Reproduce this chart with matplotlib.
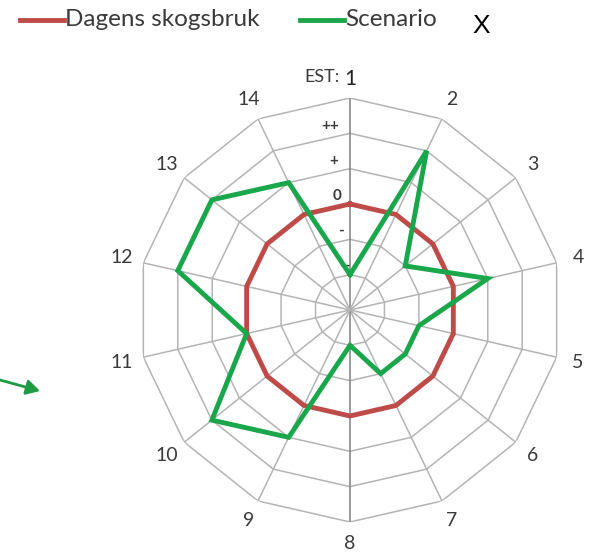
import numpy as np
import matplotlib
matplotlib.use("Agg")
import matplotlib.pyplot as plt

# 14 criteria, scored on a 6-step scale (1 = "--" ... 5 = "++")
categories = ["1", "2", "3", "4", "5", "6", "7", "8", "9", "10", "11", "12", "13", "14"]
dagens = [3, 3, 3, 3, 3, 3, 3, 3, 3, 3, 3, 3, 3, 3]
scenario = [1, 5, 2, 4, 2, 2, 2, 1, 4, 5, 3, 5, 5, 4]
level_labels = ["--", "-", "0", "+", "++"]
level_values = [1, 2, 3, 4, 5]
n_rings = 6

RED = "#be4b48"
GREEN = "#1aa64a"
GRID = "#b4b4b4"
TEXT = "#3a3a3a"

plt.rcParams["font.family"] = ["Lato", "DejaVu Sans"]

fig = plt.figure(figsize=(5.9, 5.6), dpi=100)
ax = fig.add_axes([0.2339, 0.0679, 0.7186, 0.7571], projection="polar")
ax.set_theta_zero_location("N")
ax.set_theta_direction(-1)
ax.set_ylim(0, n_rings)
ax.grid(False)
ax.spines["polar"].set_visible(False)
ax.set_xticks([])
ax.set_yticks([])
ax.patch.set_alpha(0)

n = len(categories)
theta = np.linspace(0, 2 * np.pi, n, endpoint=False)
theta_closed = np.append(theta, theta[0])

# polygon rings
for r in range(1, n_rings + 1):
    ax.plot(theta_closed, np.full(n + 1, r), color=GRID, lw=1.1, zorder=1)
# spokes
for i, t in enumerate(theta):
    c = "#808080" if i in (0, 7) else GRID
    ax.plot([t, t], [0, n_rings], color=c, lw=1.1, zorder=1)

ax.plot(theta_closed, dagens + dagens[:1], color=RED, lw=3.5, zorder=3,
        solid_joinstyle="miter")
ax.plot(theta_closed, scenario + scenario[:1], color=GREEN, lw=3.5, zorder=4,
        solid_joinstyle="miter")

# value labels along first axis
for lab, v in zip(level_labels, level_values):
    ax.text(-0.11, v + 0.25, lab, ha="center", va="center", fontsize=11,
            color=TEXT, fontweight="bold")

# category labels
for i, (t, lab) in enumerate(zip(theta, categories)):
    if i == 0:
        ax.text(t, n_rings + 0.55, lab, ha="center", va="center", fontsize=15,
                color="#222222")
        ax.text(-0.045, n_rings + 0.6, "EST:", ha="right", va="center",
                fontsize=13, color=TEXT)
    else:
        ax.text(t, n_rings + 0.62, lab, ha="center", va="center", fontsize=14,
                color=TEXT)

# legend across the top
fig.add_artist(plt.Line2D([20 / 590, 64 / 590], [1 - 20 / 560] * 2, color=RED, lw=3.5))
fig.text(65 / 590, 1 - 19 / 560, "Dagens skogsbruk", ha="left", va="center",
         fontsize=17.5, color=TEXT)
fig.add_artist(plt.Line2D([300 / 590, 344 / 590], [1 - 20 / 560] * 2, color=GREEN, lw=3.5))
fig.text(345 / 590, 1 - 19 / 560, "Scenario", ha="left", va="center",
         fontsize=17.5, color=TEXT)
fig.text(481 / 590, 1 - 26 / 560, "X", ha="center", va="center", fontsize=19,
         color="black", family="Liberation Sans")

# arrow on the left
fig.add_artist(matplotlib.patches.FancyArrowPatch(
    (0 / 590, 1 - 380 / 560), (40 / 590, 1 - 391 / 560), transform=fig.transFigure,
    arrowstyle="-|>,head_length=8,head_width=4.5", color="#1f9a45", lw=2.0,
    shrinkA=0, shrinkB=0))

fig.savefig("out.png", dpi=100)
